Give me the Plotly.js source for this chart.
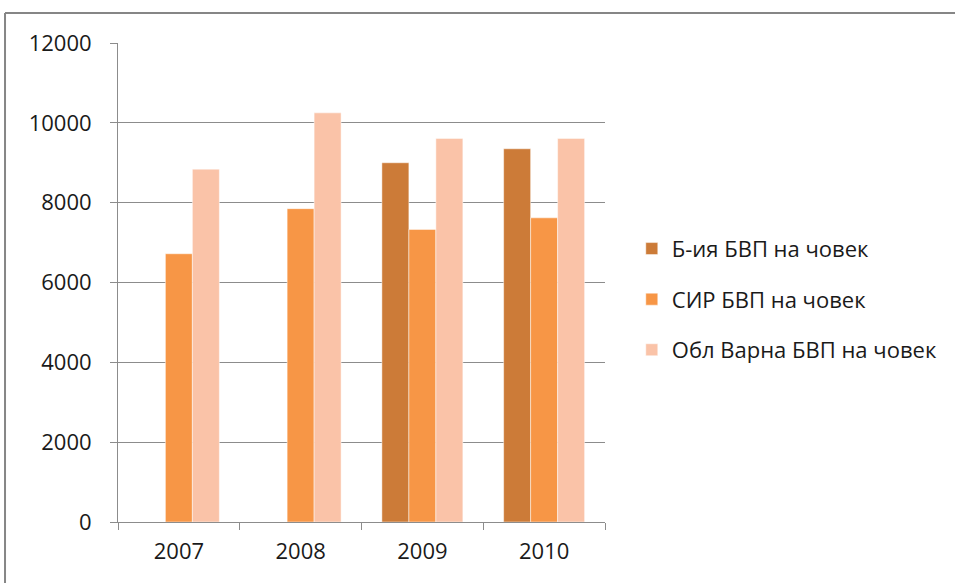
<!DOCTYPE html>
<html>
<head>
<meta charset="utf-8">
<script src="https://cdn.plot.ly/plotly-3.0.1.min.js"></script>
<style>html,body{margin:0;padding:0;background:#fff;}#chart{width:955px;height:583px;}</style>
</head>
<body>
<div id="chart"></div>
<script>
var years = ["2007", "2008", "2009", "2010"];
var seriesNames = ["Б-ия БВП на човек", "СИР БВП на човек", "Обл Варна БВП на човек"];
var bulgaria = [null, null, 9000, 9350];
var sir = [6720, 7850, 7330, 7620];
var varna = [8840, 10250, 9610, 9610];
var colors = ["#CC7B38", "#F79646", "#FAC3A8"];
var yTicks = [0, 2000, 4000, 6000, 8000, 10000, 12000];

var values = [bulgaria, sir, varna];
var traces = values.map(function (v, i) {
  return {
    type: "bar",
    x: years,
    y: v,
    name: seriesNames[i],
    legendgroup: "g" + i,
    marker: { color: colors[i], line: { color: "rgba(255,255,255,0.6)", width: 0.8 } },
    hoverinfo: "x+y+name"
  };
});

var layout = {
  width: 955,
  height: 583,
  margin: { l: 118, r: 350, t: 43, b: 61 },
  paper_bgcolor: "#ffffff",
  plot_bgcolor: "#ffffff",
  font: { family: "Open Sans, Liberation Sans, sans-serif", color: "#1a1a1a", size: 22 },
  barmode: "group",
  bargap: 0.335,
  bargroupgap: 0,
  showlegend: true,
  legend: {
    x: 1.055, xanchor: "left",
    y: 0.465, yanchor: "middle",
    font: { size: 22, color: "#1a1a1a" },
    tracegroupgap: 19,
    itemwidth: 30
  },
  xaxis: {
    type: "category",
    showline: true, linecolor: "#8c8c8c", linewidth: 1,
    ticks: "outside", tickson: "boundaries", ticklen: 7, tickcolor: "#8c8c8c",
    showgrid: false, zeroline: false,
    tickfont: { size: 22 },
    ticklabelstandoff: 10,
    automargin: false
  },
  yaxis: {
    range: [0, 12000],
    tickvals: yTicks,
    ticktext: yTicks.map(String),
    showline: true, linecolor: "#8c8c8c", linewidth: 1,
    ticks: "outside", ticklen: 7, tickcolor: "#8c8c8c",
    showgrid: true, gridcolor: "#8c8c8c", gridwidth: 1,
    zeroline: false,
    tickfont: { size: 22 },
    ticklabelstandoff: 14,
    automargin: false
  },
  shapes: [
    { type: "line", xref: "paper", yref: "paper", x0: -0.232, x1: -0.232, y0: -0.13, y1: 1.0626,
      line: { color: "#868686", width: 2 } },
    { type: "line", xref: "paper", yref: "paper", x0: -0.232, x1: 1.75, y0: 1.0626, y1: 1.0626,
      line: { color: "#868686", width: 2 } }
  ]
};

Plotly.newPlot("chart", traces, layout, { displayModeBar: false, staticPlot: true });
</script>
</body>
</html>
